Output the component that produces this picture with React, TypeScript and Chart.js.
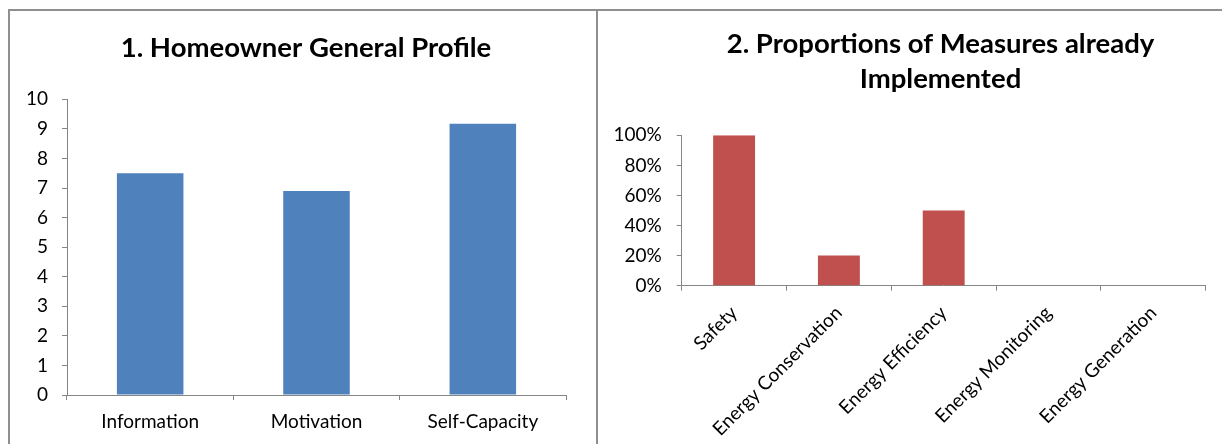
import React, { useEffect, useRef } from "react";
import { Chart, registerables } from "chart.js";

Chart.register(...registerables);

// Chart 1: homeowner profile scores
const profileTitle = ["1. Homeowner General Profile"];
const profileCategories = ["Information", "Motivation", "Self-Capacity"];
const profileValues = [7.5, 6.9, 9.17];
const profileTicks = { min: 0, max: 10, step: 1 };

// Chart 2: share of measures already implemented
const measuresTitle = ["2. Proportions of Measures already", "Implemented"];
const measuresCategories = [
  "Safety",
  "Energy Conservation",
  "Energy Efficiency",
  "Energy Monitoring",
  "Energy Generation",
];
const measuresValues = [1.0, 0.2, 0.5, 0, 0];
const measuresTicks = { min: 0, max: 1, step: 0.2 };

const FONT = "Lato, 'Open Sans', sans-serif";
const AXIS_GREY = "#868686";
const BLUE = "#4F81BD";
const RED = "#C0504D";

// Draws a bold, multi-line heading centred on a given x, one baseline per line.
const headingPlugin = {
  id: "heading",
  afterDraw(chart: any, _args: any, opts: any) {
    if (!opts || !opts.lines) return;
    const ctx = chart.ctx;
    ctx.save();
    ctx.fillStyle = "#000";
    ctx.font = `bold ${opts.size}px ${FONT}`;
    ctx.textAlign = "center";
    ctx.textBaseline = "alphabetic";
    opts.lines.forEach((line: string, i: number) => {
      ctx.fillText(line, opts.x, opts.baseline + i * opts.lineGap);
    });
    ctx.restore();
  },
};

type Box = { left: number; right: number; top: number; bottom: number };

function buildConfig(opts: {
  labels: string[];
  values: number[];
  color: string;
  title: string[];
  titleX: number;
  titleBaseline: number;
  ticks: { min: number; max: number; step: number };
  percent: boolean;
  rotate: number;
  pad: Box;
  yWidth: number;
  xHeight: number;
  yPad: number;
  xPad: number;
}) {
  return {
    type: "bar" as const,
    data: {
      labels: opts.labels,
      datasets: [
        {
          data: opts.values,
          backgroundColor: opts.color,
          borderWidth: 0,
          categoryPercentage: 1,
          barPercentage: 0.4,
        },
      ],
    },
    plugins: [headingPlugin],
    options: {
      animation: false as const,
      responsive: false,
      maintainAspectRatio: false,
      layout: { padding: opts.pad },
      plugins: {
        legend: { display: false },
        tooltip: { enabled: false },
        title: { display: false },
        heading: {
          lines: opts.title,
          x: opts.titleX,
          baseline: opts.titleBaseline,
          lineGap: 35.6,
          size: 27.5,
        },
      },
      scales: {
        x: {
          grid: {
            display: true,
            offset: true,
            drawOnChartArea: false,
            drawTicks: true,
            tickLength: 5,
            color: AXIS_GREY,
          },
          border: { display: true, color: AXIS_GREY, width: 1 },
          ticks: {
            color: "#000",
            font: { family: FONT, size: 19 },
            padding: opts.xPad,
            minRotation: opts.rotate,
            maxRotation: opts.rotate,
            autoSkip: false,
          },
          afterFit: (s: any) => {
            s.height = opts.xHeight;
          },
        },
        y: {
          min: opts.ticks.min,
          max: opts.ticks.max,
          grid: {
            display: true,
            drawOnChartArea: false,
            drawTicks: true,
            tickLength: 5,
            color: AXIS_GREY,
          },
          border: { display: true, color: AXIS_GREY, width: 1 },
          ticks: {
            stepSize: opts.ticks.step,
            color: "#000",
            font: { family: FONT, size: 19 },
            padding: opts.yPad,
            callback: (v: any) =>
              opts.percent ? `${Math.round(Number(v) * 100)}%` : `${v}`,
          },
          afterFit: (s: any) => {
            s.width = opts.yWidth;
          },
        },
      },
    },
  };
}

function BarPanel(props: { left: number; width: number; config: any }) {
  const ref = useRef<HTMLCanvasElement | null>(null);
  useEffect(() => {
    if (!ref.current) return;
    const chart = new Chart(ref.current, props.config);
    return () => chart.destroy();
  }, []);
  return (
    <canvas
      ref={ref}
      width={props.width}
      height={433}
      style={{
        position: "absolute",
        left: props.left,
        top: 11,
        width: props.width,
        height: 433,
      }}
    />
  );
}

export default function App() {
  const profileConfig = buildConfig({
    labels: profileCategories,
    values: profileValues,
    color: BLUE,
    title: profileTitle,
    titleX: 296,
    titleBaseline: 46.3,
    ticks: profileTicks,
    percent: false,
    rotate: 0,
    pad: { left: 0, right: 30, top: 88.3, bottom: 0 },
    yWidth: 57,
    xHeight: 49,
    yPad: 14,
    xPad: 10,
  });
  const measuresConfig = buildConfig({
    labels: measuresCategories,
    values: measuresValues,
    color: RED,
    title: measuresTitle,
    titleX: 342.5,
    titleBaseline: 41.7,
    ticks: measuresTicks,
    percent: true,
    rotate: 45,
    pad: { left: 0, right: 16.3, top: 124.3, bottom: 0 },
    yWidth: 83.7,
    xHeight: 158.3,
    yPad: 15,
    xPad: 11,
  });

  return (
    <div
      style={{
        position: "fixed",
        left: 0,
        top: 0,
        width: 1222,
        height: 444,
        overflow: "hidden",
        background: "#fff",
      }}
    >
      <div style={{ position: "absolute", left: 8, top: 9, width: 1214, height: 2, background: "#8f8f8f" }} />
      <div style={{ position: "absolute", left: 8, top: 9, width: 2, height: 435, background: "#8f8f8f" }} />
      <div style={{ position: "absolute", left: 596, top: 9, width: 2, height: 435, background: "#8f8f8f" }} />
      <BarPanel left={10} width={586} config={profileConfig} />
      <BarPanel left={598} width={624} config={measuresConfig} />
    </div>
  );
}
